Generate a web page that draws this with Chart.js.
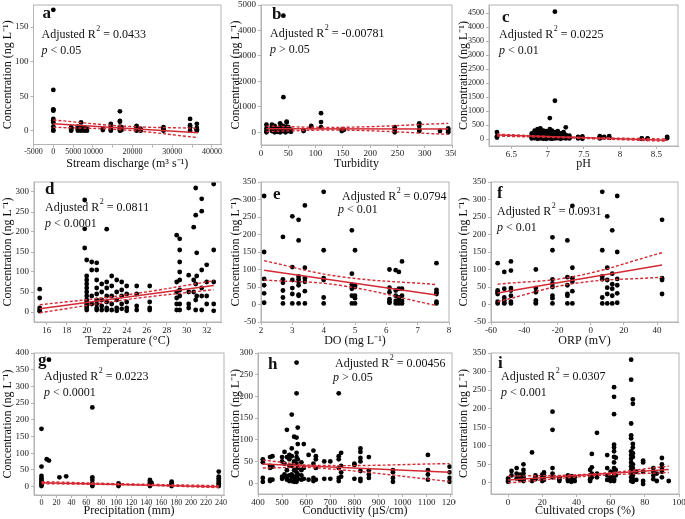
<!DOCTYPE html>
<html>
<head>
<meta charset="utf-8">
<script src="https://cdn.jsdelivr.net/npm/chart.js@4.4.1/dist/chart.umd.min.js"></script>
<style>
  html, body { margin: 0; padding: 0; background: #fff; }
  #wrap { position: relative; width: 685px; height: 519px; overflow: hidden; }
  #wrap canvas { position: absolute; }
</style>
</head>
<body>
<div id="wrap"></div>
<script>
/* ── DATA ── */

// a: stream discharge
const dischargeX = [0, 4500, 6200, 7000, 7800, 8500, 12500, 14500, 16800, 17200, 21000, 22000, 27800, 34500, 36200];
const dischargeY = [[175, 59, 31, 30, 29, 17, 15, 12, 6, 1, 0], [5, 4, 3, 1, 0], [6, 4, 2, 0], [12, 5, 2, 0], [4, 2, 0],
  [3, 0], [3, 1], [10, 5, 2, 0], [28, 14, 13, 6, 4, 2, 0], [5, 3, 1], [7, 5, 3, 1, 0], [3, 1, 0], [5, 3, 1, 0], [17, 8, 5, 0], [10, 4, 2, 1, 0]];
const dischargeFit = [[0, 10], [36500, -3]];
const dischargeUpper = [[0, 15.5], [18000, 6.5], [36500, 3.5]];
const dischargeLower = [[0, 5], [18000, 1], [36500, -10]];
const dischargeTicks = [-5000, 0, 5000, 10000, 15000, 20000, 25000, 30000, 35000, 40000];
const dischargeLabels = [-5000, 0, 5000, 10000, 20000, 30000, 40000];

// b: turbidity
const turbidityX = [10, 20, 25, 30, 35, 40, 41, 45, 47, 50, 55, 78, 92, 110, 148, 152, 245, 290, 328, 343];
const turbidityY = [[300, 150, 50, 0], [300, 200, 100, 50], [250, 100, 0], [150, 80, 20], [350, 200, 100, 0], [250, 150, 50],
  [4580, 1380], [200, 100, 0], [420, 380], [200, 150, 50], [100, 20], [80, 50], [250, 200], [750, 400, 200], [100, 50], [100],
  [200, 100, 0], [350, 250, 100, 50], [50], [150, 100, 50, 0]];
const turbidityFit = [[10, 135], [343, 130]];
const turbidityUpper = [[10, 240], [150, 195], [343, 350]];
const turbidityLower = [[10, 30], [150, 85], [343, -80]];

// c: pH
const phX = [6.3, 6.78, 6.82, 6.86, 6.9, 6.94, 6.98, 7.03, 7.06, 7.1, 7.14, 7.18, 7.22, 7.25, 7.3, 7.42, 7.48, 7.72, 7.78, 7.85, 8.3, 8.38, 8.65];
const phY = [[250, 100, 50], [200, 120, 60, 20], [300, 180, 80, 30], [350, 220, 100, 40, 10], [380, 250, 150, 60, 20],
  [300, 200, 120, 50, 10], [280, 160, 90, 40, 5], [750, 350, 230, 120, 60, 20], [300, 200, 100, 40, 10], [4560, 1370, 250, 150, 70, 20],
  [280, 180, 90, 30], [200, 120, 60, 10], [250, 100, 40], [420, 150, 70, 20], [120, 60, 20], [80, 50, 20], [90, 40, 10],
  [100, 60, 20], [80, 50], [100, 40], [20, 10], [20, 5], [80, 30]];
const phFit = [[6.3, 140], [8.65, -40]];
const phUpper = [[6.3, 175], [7.2, 75], [8.65, 0]];
const phLower = [[6.3, 105], [7.2, 45], [8.65, -80]];

// d: temperature
const tempX = [15.3, 19.8, 20, 20.5, 21, 21.5, 22, 22.5, 23, 23.5, 24, 25, 26.3, 29, 29.3, 30.2, 30.7, 30.9, 31, 31.5, 32, 32.7];
const tempY = [[57, 35, 10, 5, 2], [280, 208, 160], [130, 90, 80, 70, 60, 50, 40, 30, 25, 20, 15, 10, 5], [125, 105, 40, 20],
  [123, 105, 80, 60, 45, 30, 20, 10, 5], [70, 50, 30, 15, 5], [207, 75, 60, 40, 25, 10, 5], [90, 65, 40, 20, 5],
  [80, 50, 30, 10, 3], [75, 55, 40, 20, 8], [65, 45, 25, 10, 3], [65, 45, 15, 5], [65, 25, 10, 5], [192, 75, 50, 35, 20, 5],
  [183, 155, 125, 100, 80, 55, 40, 20, 5], [92, 50, 20, 10], [212, 80, 50], [310, 242, 70, 30, 5], [148, 90, 40],
  [283, 252, 105, 60, 40, 5], [118, 75, 40, 20], [320, 155, 75, 20, 3]];
const tempFit = [[15.3, 8], [32.7, 66]];
const tempUpper = [[15.3, 18], [24, 43], [32.7, 78]];
const tempLower = [[15.3, -2], [24, 31], [32.7, 56]];

// e: dissolved oxygen
const doX = [2.1, 2.7, 3.0, 3.2, 3.4, 4.0, 4.9, 5.0, 6.1, 6.3, 6.4, 6.5, 7.6];
const doY = [[310, 150, 73, 55, 32, 5], [193, 72, 62, 40, 20, 3], [252, 107, 70, 47, 30, 3], [242, 183, 80, 72, 65, 55, 28, 25, 3],
  [283, 105, 75, 65, 38, 3], [322, 155, 75, 70, 20, 3], [212, 88, 57, 45, 25, 3], [155, 55, 50, 25, 18, 3],
  [100, 48, 35, 15, 8, 5], [98, 40, 25, 10, 3], [93, 45, 20, 15, 8, 3], [123, 45, 25, 10, 3], [118, 42, 35, 30, 8, 3]];
const doFit = [[2.1, 98], [7.6, 27]];
const doUpper = [[2.1, 125], [4.5, 80], [7.6, 57]];
const doLower = [[2.1, 70], [4.5, 55], [7.6, -3]];

// f: ORP
const orpX = [-56, -52, -48, -33, -23, -14, -11, 7, 10, 13, 16, 43];
const orpY = [[118, 40, 35, 30, 8, 3], [93, 45, 20, 12, 5, 3], [123, 97, 47, 40, 25, 8, 3], [100, 47, 35, 12, 5, 3],
  [192, 155, 72, 60, 50, 25, 18, 3], [183, 78, 55, 30, 25, 3], [282, 105, 75, 65, 38, 3], [322, 155, 80, 72, 20, 3],
  [252, 105, 70, 48, 30, 3], [212, 88, 58, 45, 25, 3], [310, 150, 73, 55, 32, 5], [242, 75, 70, 30]];
const orpFit = [[-56, 33], [43, 113]];
const orpUpper = [[-56, 58], [-10, 80], [43, 148]];
const orpLower = [[-56, 8], [-10, 60], [43, 78]];

// g: precipitation
const rainX = [0, 7, 10, 24, 33, 68, 103, 145, 147, 174, 237];
const rainY = [[173, 60, 32, 25, 20, 15, 10, 5, 2], [82], [380, 78], [28], [31], [237, 28, 20, 10, 5, 2], [10, 5, 2],
  [20, 15, 10, 5, 2], [12, 8], [15, 10, 5, 2], [45, 30, 25, 20, 15, 10, 5, 2]];
const rainFit = [[0, 12], [237, 0]];
const rainUpper = [[0, 15], [120, 8], [237, 3]];
const rainLower = [[0, 9], [120, 5], [237, -3]];

// h: conductivity
const condX = [420, 450, 460, 500, 510, 520, 530, 540, 550, 560, 565, 580, 590, 610, 630, 640, 675, 700, 735, 745, 800, 825, 860, 960, 1105, 1195];
const condY = [[55, 48, 12, 3], [60, 40, 35, 8, 5], [62, 38, 8], [60, 50, 15, 10], [72, 45, 20, 15], [123, 60, 30, 15, 8],
  [65, 55, 40, 18, 5], [158, 80, 62, 40, 20, 10, 5], [107, 50, 48, 30, 15, 8, 3], [278, 207, 105, 70, 60, 45, 25, 15, 8, 3],
  [128, 90, 55, 35, 20, 10], [48, 30, 18, 8], [90, 35, 10], [65, 8], [75, 45, 12, 5], [62, 55, 35, 8], [50, 10], [50, 10],
  [207, 62, 55, 35, 12, 5], [70, 40, 25, 15], [45, 42, 10], [80, 72, 58, 50, 28, 10, 5], [60, 30, 20, 12], [30, 25, 12, 3],
  [65, 30, 20, 8], [38, 25, 12, 3]];
const condFit = [[420, 44], [1195, 25]];
const condUpper = [[420, 53], [650, 41], [1195, 45]];
const condLower = [[420, 35], [650, 35], [1195, 4]];

// i: cultivated crops
const cropX = [0, 2, 5, 7, 9, 14, 16, 20, 21, 26, 30, 35, 37, 39, 48, 49, 52, 58, 60, 62, 63, 72, 73, 75, 79, 85, 87, 90, 94];
const cropY = [[12, 8, 5, 3], [32, 20], [40, 25, 12], [22, 15, 8], [50, 35, 25, 15, 10, 5], [82, 5], [20, 15, 10], [22, 15, 10, 5],
  [28, 20, 8], [192, 143, 40, 25, 15], [15, 10, 5], [20, 15, 10, 5], [18, 12, 8, 3], [15, 5], [35, 20, 10, 5], [78, 42, 25, 15],
  [135, 25, 15], [75, 40, 20, 8], [30, 15, 5], [258, 232, 185, 103, 95, 85, 70, 55, 40, 30, 20, 10, 5], [68, 35, 20],
  [332, 278, 160, 128, 120, 85, 75, 65, 55, 45, 35, 25, 15, 5], [225, 213, 105, 95, 80, 70, 50, 40, 30, 20, 10, 3], [30, 8],
  [60, 55, 30, 5, -3], [40, 30, 20, 10], [25, 5], [67, 50, 40, 30, 15], [5]];
const cropFit = [[0, 8], [94, 36]];
const cropUpper = [[0, 18], [50, 24], [94, 45]];
const cropLower = [[0, 0], [50, 19], [94, 28]];

/* ── STYLE ── */
const SERIF = '"Liberation Serif", "Times New Roman", serif';
const RED = '#d42a35';
const FRAME = '#b4b4b4';
const YTITLE = 'Concentration (ng L\u207B\u00B9)';

// helpers
const range = (a, b, step) => { const out = []; for (let v = a; v <= b + 1e-9; v += step) out.push(+v.toFixed(6)); return out; };
const toPts = (xs, ys) => xs.flatMap((x, i) => ys[i].map(y => ({ x, y })));
const toXY = arr => arr.map(([x, y]) => ({ x, y }));

// panel layout: canvas box + plot area (page px), axis ranges, text placement
const panels = [
  { tag: 'a', box: [0, 0, 228, 172], area: [33.5, 5, 221, 144.5], x: [-5000, 42300], y: [-20, 182],
    xTicks: dischargeTicks, xLabels: dischargeLabels, yTicks: [0, 50, 100, 150], xFont: 8, xTitle: 'Stream discharge (m\u00B3 s\u207B\u00B9)',
    pts: toPts(dischargeX, dischargeY), fit: dischargeFit, up: dischargeUpper, lo: dischargeLower,
    r2: '0.0433', p: '< 0.05', tagAt: [9, 9], statAt: [8, 30] },
  { tag: 'b', box: [228, 0, 228, 172], area: [261, 5, 452, 145], x: [0, 350], y: [-500, 5000],
    xTicks: range(0, 350, 50), yTicks: range(0, 5000, 1000), xTitle: 'Turbidity',
    pts: toPts(turbidityX, turbidityY), fit: turbidityFit, up: turbidityUpper, lo: turbidityLower,
    r2: '-0.00781', p: '> 0.05', tagAt: [11, 10], statAt: [9, 29] },
  { tag: 'c', box: [456, 0, 229, 172], area: [489, 5, 678, 146], x: [6.19, 8.8], y: [-250, 4800],
    xTicks: [6.5, 7, 7.5, 8, 8.5], yTicks: range(0, 4500, 500), yFont: 8, xTitle: 'pH',
    pts: toPts(phX, phY), fit: phFit, up: phUpper, lo: phLower,
    r2: '0.0225', p: '< 0.01', tagAt: [13, 13], statAt: [10, 30] },
  { tag: 'd', box: [0, 172, 228, 177], area: [34, 182, 221, 322], x: [14.73, 33.43], y: [-25, 325],
    xTicks: range(16, 32, 2), yTicks: range(0, 300, 50), xTitle: 'Temperature (\u00B0C)',
    pts: toPts(tempX, tempY), fit: tempFit, up: tempUpper, lo: tempLower,
    r2: '0.0811', p: '< 0.0001', tagAt: [11, 8], statAt: [11, 26] },
  { tag: 'e', box: [228, 172, 228, 177], area: [261, 182, 449, 322], x: [2, 8], y: [-50, 350],
    xTicks: range(2, 8, 1), yTicks: range(-50, 350, 50), xTitle: 'DO (mg L\u207B\u00B9)',
    pts: toPts(doX, doY), fit: doFit, up: doUpper, lo: doLower,
    r2: '0.0794', p: '< 0.01', tagAt: [12, 13], statAt: [81, 15], pAt: [77, 28] },
  { tag: 'f', box: [456, 172, 229, 177], area: [491, 182, 678, 322], x: [-60, 52.6], y: [-50, 350],
    xTicks: range(-60, 40, 20), yTicks: range(-50, 350, 50), xTitle: 'ORP (mV)',
    pts: toPts(orpX, orpY), fit: orpFit, up: orpUpper, lo: orpLower,
    r2: '0.0931', p: '< 0.01', tagAt: [6, 12], statAt: [6, 30] },
  { tag: 'g', box: [0, 346, 228, 173], area: [34, 353, 225, 495], x: [-10, 244], y: [-25, 400],
    xTicks: range(0, 240, 20), yTicks: range(0, 400, 50), xFont: 8, xTitle: 'Precipitation (mm)',
    pts: toPts(rainX, rainY), fit: rainFit, up: rainUpper, lo: rainLower,
    r2: '0.0223', p: '< 0.0001', tagAt: [4, 8], statAt: [10, 24] },
  { tag: 'h', box: [228, 346, 228, 173], area: [258, 353, 452, 494], x: [400, 1205], y: [-25, 300],
    xTicks: range(400, 1200, 100), yTicks: range(0, 300, 50), xTitle: 'Conductivity (\u00B5S/cm)',
    pts: toPts(condX, condY), fit: condFit, up: condUpper, lo: condLower,
    r2: '0.00456', p: '> 0.05', tagAt: [10, 12], statAt: [77, 11], pAt: [75, 25] },
  { tag: 'i', box: [456, 346, 229, 173], area: [491, 353, 679, 494], x: [-10, 100], y: [-30, 350],
    xTicks: range(0, 100, 20), yTicks: range(0, 350, 50), xTitle: 'Cultivated crops (%)',
    pts: toPts(cropX, cropY), fit: cropFit, up: cropUpper, lo: cropLower,
    r2: '0.0307', p: '< 0.001', tagAt: [7, 11], statAt: [10, 24] }
];

// frame + panel letter + stats text
const annotate = {
  id: 'annotate',
  afterDraw(chart, args, opts) {
    const { ctx, chartArea: ca } = chart;
    const P = opts.panel;
    ctx.save();
    ctx.strokeStyle = FRAME;
    ctx.lineWidth = 1;
    ctx.strokeRect(ca.left, ca.top, ca.right - ca.left, ca.bottom - ca.top);

    ctx.fillStyle = '#111';
    ctx.textBaseline = 'middle';
    ctx.font = 'bold 17px ' + SERIF;
    ctx.fillText(P.tag, ca.left + P.tagAt[0], ca.top + P.tagAt[1]);

    // "Adjusted R^2 = value"
    let x = ca.left + P.statAt[0];
    const y = ca.top + P.statAt[1];
    ctx.font = '12px ' + SERIF;
    ctx.fillText('Adjusted R', x, y);
    x += ctx.measureText('Adjusted R').width + 0.5;
    ctx.font = '8px ' + SERIF;
    ctx.fillText('2', x, y - 6);
    x += ctx.measureText('2').width;
    ctx.font = '12px ' + SERIF;
    ctx.fillText(' = ' + P.r2, x, y);

    // "p < value"
    const pAt = P.pAt || [P.statAt[0], P.statAt[1] + 16];
    let px = ca.left + pAt[0];
    ctx.font = 'italic 12px ' + SERIF;
    ctx.fillText('p', px, ca.top + pAt[1]);
    px += ctx.measureText('p').width;
    ctx.font = '12px ' + SERIF;
    ctx.fillText(' ' + P.p, px, ca.top + pAt[1]);
    ctx.restore();
  }
};

function buildPanel(P) {
  const [bx, by, bw, bh] = P.box;
  const [L, T, R, B] = P.area;
  const cv = document.createElement('canvas');
  cv.style.left = bx + 'px';
  cv.style.top = by + 'px';
  cv.style.width = bw + 'px';
  cv.style.height = bh + 'px';
  cv.width = bw; cv.height = bh;
  document.getElementById('wrap').appendChild(cv);

  const titleFont = { family: SERIF, size: 12, lineHeight: 1 };
  const labelSet = P.xLabels ? new Set(P.xLabels) : null;

  const lineDs = (pts, dashed) => ({
    type: 'scatter', data: toXY(pts), showLine: true, pointRadius: 0,
    borderColor: RED, borderWidth: dashed ? 1.4 : 1.5, borderDash: dashed ? [3, 2] : [],
    tension: dashed ? 0.4 : 0, fill: false
  });

  return new Chart(cv.getContext('2d'), {
    type: 'scatter',
    data: {
      datasets: [
        lineDs(P.fit, false),
        lineDs(P.up, true),
        lineDs(P.lo, true),
        { data: P.pts, pointRadius: 2.4, backgroundColor: '#000', borderWidth: 0, pointStyle: 'circle' }
      ]
    },
    options: {
      responsive: false,
      animation: false,
      events: [],
      layout: { padding: { left: 0, top: T - by, right: bx + bw - R, bottom: 0 } },
      plugins: { legend: { display: false }, tooltip: { enabled: false }, annotate: { panel: P } },
      scales: {
        x: {
          type: 'linear', min: P.x[0], max: P.x[1],
          afterBuildTicks: s => { s.ticks = P.xTicks.map(v => ({ value: v })); },
          afterFit: s => { s.height = by + bh - B; s.paddingLeft = 0; s.paddingRight = 0; },
          ticks: {
            font: { family: SERIF, size: P.xFont || 9 }, color: '#222', padding: 0, maxRotation: 0, autoSkip: false,
            callback: v => (labelSet && !labelSet.has(v)) ? '' : String(v)
          },
          grid: { drawOnChartArea: false, tickLength: 3, color: FRAME },
          border: { color: FRAME },
          title: { display: true, text: P.xTitle, font: titleFont, color: '#111', padding: { top: 0, bottom: 2 } }
        },
        y: {
          type: 'linear', min: P.y[0], max: P.y[1],
          afterBuildTicks: s => { s.ticks = P.yTicks.map(v => ({ value: v })); },
          afterFit: s => { s.width = L - bx; s.paddingTop = 0; s.paddingBottom = 0; },
          ticks: { font: { family: SERIF, size: P.yFont || 9 }, color: '#222', padding: 2, callback: v => String(v) },
          grid: { drawOnChartArea: false, tickLength: 3, color: FRAME },
          border: { color: FRAME },
          title: { display: true, text: YTITLE, font: titleFont, color: '#111', padding: { top: 2, bottom: 0 } }
        }
      }
    },
    plugins: [annotate]
  });
}

panels.forEach(buildPanel);
</script>
</body>
</html>
